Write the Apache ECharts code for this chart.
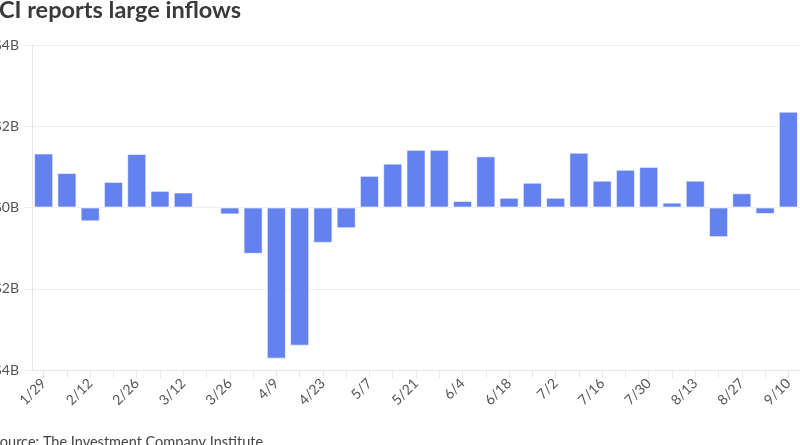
<!DOCTYPE html>
<html>
<head>
<meta charset="utf-8">
<script src="https://cdn.jsdelivr.net/npm/echarts@6/dist/echarts.min.js"></script>
<style>
	html, body { margin: 0; padding: 0; background: #fff; }
	#chart { width: 800px; height: 445px; }
</style>
</head>
<body>
<div id="chart"></div>
<script>
// weekly flows, billions of dollars
var weeks = ['1/29', '2/5', '2/12', '2/19', '2/26', '3/5', '3/12', '3/19', '3/26', '4/2', '4/9', '4/16', '4/23', '4/30',
	'5/7', '5/14', '5/21', '5/28', '6/4', '6/11', '6/18', '6/25', '7/2', '7/9', '7/16', '7/23', '7/30', '8/6', '8/13',
	'8/20', '8/27', '9/3', '9/10'
];
var flows = [1.33, 0.85, -0.34, 0.63, 1.32, 0.41, 0.37, 0.03, -0.17, -1.14, -3.72, -3.40, -0.87, -0.51,
	0.78, 1.08, 1.42, 1.42, 0.16, 1.26, 0.24, 0.61, 0.24, 1.35, 0.66, 0.93, 1.0, 0.12, 0.66,
	-0.73, 0.35, -0.16, 2.36
];
var yTicks = [-4, -2, 0, 2, 4];

var titleText = 'ICI reports large inflows';
var sourceText = 'Source: The Investment Company Institute';

function showChart(id) {
	let chart = echarts.init(document.getElementById(id));
	let option = {
		animation: false,
		textStyle: {
			fontFamily: 'Lato'
		},
		grid: {
			left: 32,
			right: 0,
			top: 45,
			bottom: 75,
			containLabel: false,
			outerBoundsMode: 'none'
		},
		graphic: [{
			type: 'text',
			left: -8,
			top: -2,
			style: {
				text: titleText,
				fontFamily: 'Lato',
				fontWeight: 'bold',
				fontSize: 23.5,
				fill: '#3a3a3a'
			}
		}, {
			type: 'text',
			left: -8,
			top: 435,
			style: {
				text: sourceText,
				fontFamily: 'Lato',
				fontSize: 14.5,
				fill: '#444444'
			}
		}],
		xAxis: {
			type: 'category',
			data: weeks,
			axisLine: {
				show: true,
				onZero: false,
				lineStyle: {
					color: '#e6e6e6'
				}
			},
			axisTick: {
				show: true,
				interval: 0,
				alignWithLabel: true,
				length: 8,
				lineStyle: {
					color: '#e6e6e6'
				}
			},
			axisLabel: {
				interval: 1,
				rotate: 45,
				fontSize: 14,
				color: '#555555',
				margin: 11
			}
		},
		yAxis: {
			type: 'value',
			min: yTicks[0],
			max: yTicks[yTicks.length - 1],
			interval: 2,
			axisLine: {
				show: true,
				lineStyle: {
					color: '#e6e6e6'
				}
			},
			axisTick: {
				show: true,
				length: 8,
				lineStyle: {
					color: '#eeeeee'
				}
			},
			axisLabel: {
				fontSize: 14,
				color: '#555555',
				margin: 13,
				formatter: function(v) {
					return (v < 0 ? '-' : '') + '$' + Math.abs(v) + 'B';
				}
			},
			splitLine: {
				lineStyle: {
					color: '#eeeeee'
				}
			}
		},
		series: [{
			type: 'bar',
			data: flows,
			barCategoryGap: '18%',
			itemStyle: {
				color: '#6481f0',
				borderColor: 'rgba(255,255,255,0.6)',
				borderWidth: 1
			}
		}]
	};
	chart.setOption(option);
}

showChart('chart');
</script>
</body>
</html>
